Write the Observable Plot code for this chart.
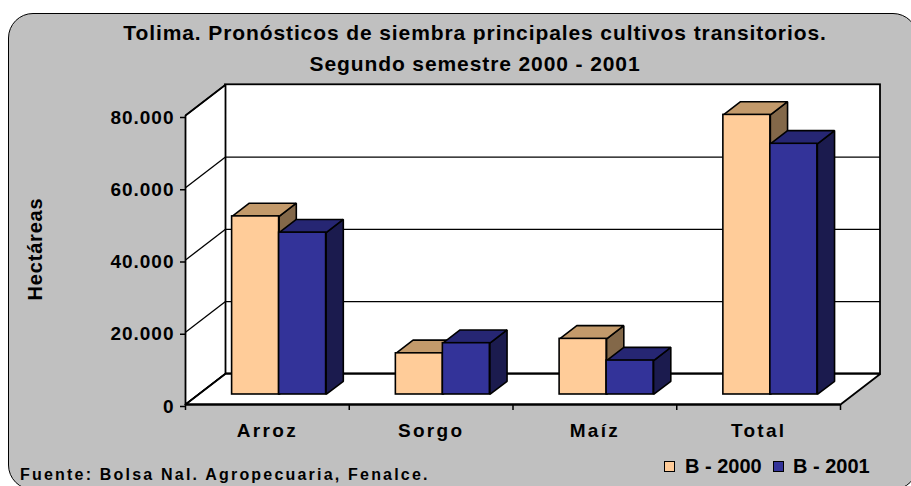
<!DOCTYPE html>
<html>
<head>
<meta charset="utf-8">
<script src="https://cdn.jsdelivr.net/npm/d3@7"></script>
<script src="https://cdn.jsdelivr.net/npm/@observablehq/plot@0.6"></script>
<style>
  html, body { margin: 0; padding: 0; background: #fff; }
  #wrap { position: relative; width: 911px; height: 486px; overflow: hidden;
          font-family: "Liberation Sans", Arial, sans-serif; font-weight: bold; color: #000; }
  #box { position: absolute; left: 8px; top: 13px; width: 910px; height: 477px; box-sizing: border-box;
         background: #C0C0C0; border: 1.5px solid #000; border-radius: 25px; }
  #chart { position: absolute; left: 0; top: 0; }
  .title { position: absolute; left: 0; width: 950px; text-align: center; font-size: 21px;
           line-height: 21px; letter-spacing: 0.9px; white-space: nowrap; }
  #ytitle { position: absolute; left: -65px; top: 239px; width: 200px; height: 20px; line-height: 20px;
            text-align: center; font-size: 20px; letter-spacing: 0.8px; transform: rotate(-90deg);
            transform-origin: 100px 10px; white-space: nowrap; }
  #caption { position: absolute; left: 20px; top: 466.5px; font-size: 16px; line-height: 16px;
             letter-spacing: 2.2px; white-space: nowrap; }
  .lg-sq { position: absolute; top: 461px; width: 11px; height: 11px; box-sizing: border-box; border: 1.5px solid #000; }
  .lg-tx { position: absolute; top: 456px; font-size: 20px; line-height: 20px; white-space: nowrap; }
</style>
</head>
<body>
<div id="wrap">
  <div id="box"></div>
  <div id="chart"></div>
  <div class="title" id="t1" style="top:22px"></div>
  <div class="title" id="t2" style="top:53px"></div>
  <div id="ytitle"></div>
  <div id="caption"></div>
  <div id="legend"></div>
</div>
<script>
// ---- data ----
const titleLines = ["Tolima. Pronósticos de siembra principales cultivos transitorios.", "Segundo semestre 2000 - 2001"];
const yLabel = "Hectáreas";
const captionText = "Fuente: Bolsa Nal. Agropecuaria, Fenalce.";
const categories = ["Arroz", "Sorgo", "Maíz", "Total"];
const series = ["B - 2000", "B - 2001"];
const values2000 = [49300, 11400, 15400, 77400];
const values2001 = [44800, 14200, 9400, 69400];
const yTicks = [0, 20000, 40000, 60000, 80000];

// ---- styles / geometry ----
const colors = {
  front: ["#FFCC99", "#333399"],
  top:   ["#C39A6B", "#262673"],
  side:  ["#836849", "#1B1B4E"]
};
const DX = 0.2443, DY = 8500;      // oblique offset of the full depth, in data units
const barStart = 0.205, barW = 0.287, d0 = 0.326, dd = 0.43;
const nCat = categories.length;
const yMax = d3.max(yTicks);

const fmt = d3.formatLocale({decimal: ",", thousands: ".", grouping: [3], currency: ["$", ""]}).format(",");

// text
document.getElementById("t1").textContent = titleLines[0];
document.getElementById("t2").textContent = titleLines[1];
document.getElementById("ytitle").textContent = yLabel;
document.getElementById("caption").textContent = captionText;
const legend = document.getElementById("legend");
const lgX = [[664, 685], [773, 793]];
series.forEach((s, k) => {
  const sq = document.createElement("div");
  sq.className = "lg-sq"; sq.style.left = lgX[k][0] + "px"; sq.style.background = colors.front[k];
  const tx = document.createElement("div");
  tx.className = "lg-tx"; tx.style.left = lgX[k][1] + "px"; tx.textContent = s;
  legend.appendChild(sq); legend.appendChild(tx);
});

// walls
const sideWall = [
  {x: 0, y: 0}, {x: DX, y: DY}, {x: DX, y: yMax + DY}, {x: 0, y: yMax}, {x: 0, y: 0}
];
const floor = [
  {x: 0, y: 0}, {x: nCat, y: 0}, {x: nCat + DX, y: DY}, {x: DX, y: DY}, {x: 0, y: 0}
];

// bars
const allValues = [values2000, values2001];
const fronts = [[], []], tops = [[], []], sides = [[], []];
allValues.forEach((vals, s) => {
  vals.forEach((v, i) => {
    const x0 = i + barStart + s * barW + d0 * DX, x1 = x0 + barW;
    const yb = d0 * DY, yt = v + yb, ox = dd * DX, oy = dd * DY;
    const id = categories[i] + s;
    fronts[s].push({x1: x0, x2: x1, y1: yb, y2: yt});
    [[x0, yt], [x1, yt], [x1 + ox, yt + oy], [x0 + ox, yt + oy], [x0, yt]]
      .forEach(([x, y]) => tops[s].push({id, x, y}));
    [[x1, yb], [x1 + ox, yb + oy], [x1 + ox, yt + oy], [x1, yt], [x1, yb]]
      .forEach(([x, y]) => sides[s].push({id, x, y}));
  });
});

const barMarks = [];
[0, 1].forEach(s => {
  barMarks.push(
    Plot.line(sides[s], {x: "x", y: "y", z: "id", fill: colors.side[s], stroke: "black", strokeWidth: 1.6, strokeLinejoin: "miter", strokeLinecap: "butt"}),
    Plot.line(tops[s], {x: "x", y: "y", z: "id", fill: colors.top[s], stroke: "black", strokeWidth: 1.6, strokeLinejoin: "miter", strokeLinecap: "butt"}),
    Plot.rect(fronts[s], {x1: "x1", x2: "x2", y1: "y1", y2: "y2", fill: colors.front[s], stroke: "black", strokeWidth: 1.6})
  );
});

const gridVals = yTicks.filter(t => t > 0 && t < yMax);
const centers = categories.map((c, i) => i + 0.5);
const bounds = d3.range(nCat + 1);

const chart = Plot.plot({
  width: 911,
  height: 486,
  marginLeft: 185,
  marginRight: 71,
  marginTop: 115,
  marginBottom: 82,
  x: {type: "linear", domain: [0, nCat], axis: null},
  y: {type: "linear", domain: [0, yMax], axis: null},
  style: {background: "transparent", fontFamily: '"Liberation Sans", Arial, sans-serif', fontWeight: "bold", color: "black", overflow: "visible"},
  marks: [
    Plot.rect([yMax], {x1: DX, x2: nCat + DX, y1: DY, y2: d => d + DY, fill: "white", stroke: "black", strokeWidth: 1.8}),
    Plot.line(sideWall, {x: "x", y: "y", fill: "white", stroke: "black", strokeWidth: 1.8, strokeLinejoin: "miter"}),
    Plot.line(floor, {x: "x", y: "y", fill: "white", stroke: "black", strokeWidth: 1.8, strokeLinejoin: "miter"}),
    Plot.ruleY(gridVals, {y: d => d + DY, x1: DX, x2: nCat + DX, stroke: "black", strokeWidth: 1.3}),
    Plot.link(yTicks, {x1: 0, y1: d => d, x2: DX, y2: d => d + DY, stroke: "black", strokeWidth: 1.3}),
    ...barMarks,
    Plot.ruleY([0], {x1: 0, x2: nCat, stroke: "black", strokeWidth: 2.2}),
    Plot.axisY(yTicks, {tickSize: 5, tickPadding: 6, tickFormat: fmt, fontSize: 19, dy: 2, strokeWidth: 1.5}),
    Plot.axisX(bounds, {tickSize: 6, tickFormat: () => "", strokeWidth: 1.5}),
    Plot.axisX(centers, {tickSize: 0, tickPadding: 19, tickFormat: d => categories[Math.floor(d)], fontSize: 19})
  ]
});
document.getElementById("chart").appendChild(chart);

d3.select(chart).selectAll('g[aria-label="y-axis tick label"] text').style("letter-spacing", "1px");
d3.select(chart).selectAll('g[aria-label="x-axis tick label"] text').style("letter-spacing", "2.3px");
</script>
</body>
</html>
